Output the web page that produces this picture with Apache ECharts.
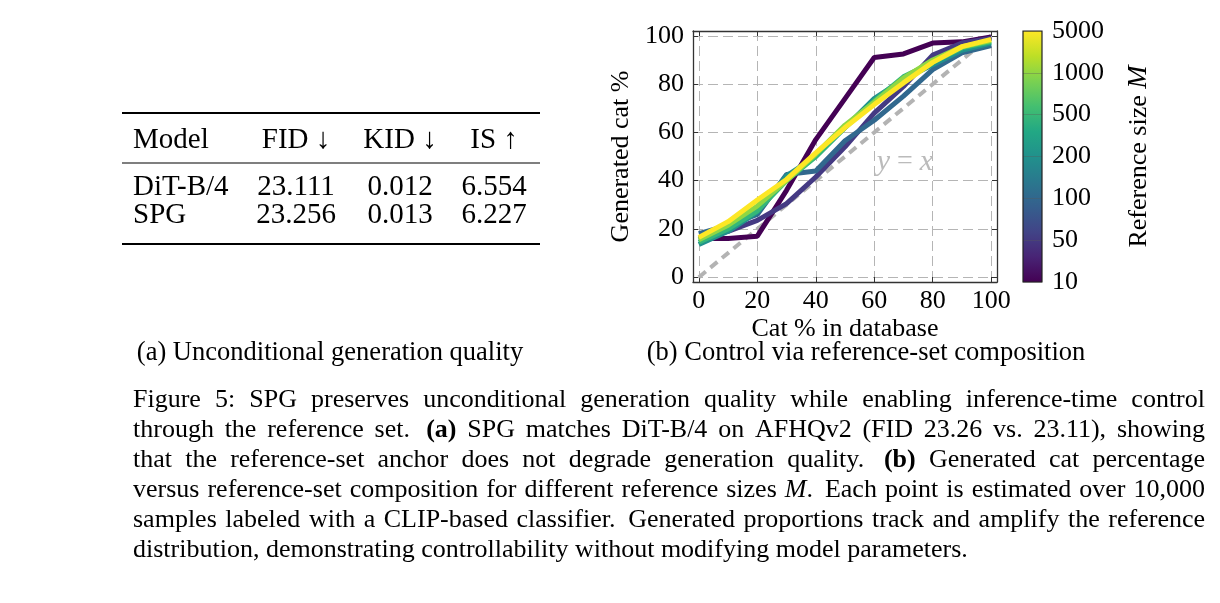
<!DOCTYPE html>
<html>
<head>
<meta charset="utf-8">
<script src="https://cdn.jsdelivr.net/npm/echarts@6/dist/echarts.min.js"></script>
<style>
  html, body { margin: 0; padding: 0; background: #fff; }
  #chart { width: 1220px; height: 603px; }
</style>
</head>
<body>
<div id="chart"></div>
<script>
// ---- data ----
const catPct = [0, 10, 20, 30, 40, 50, 60, 70, 80, 90, 100]
const axisTicks = [0, 20, 40, 60, 80, 100]
const refSizes = ['10', '50', '100', '200', '500', '1000', '5000']
const gen10 = [16, 16, 17, 36, 57, 74, 91, 92.5, 97, 97.5, 99.5]
const gen50 = [16, 19, 23.5, 30.5, 41.5, 54, 68, 79, 92, 97, 99]
const gen100 = [18, 21.5, 26, 42.5, 44, 56.5, 65, 75, 86, 93, 96]
const gen200 = [13.5, 19, 27, 42, 50, 62, 74, 82, 88, 94, 97]
const gen500 = [14.5, 20, 27.5, 40, 50, 62, 73, 83, 89, 95, 97.5]
const gen1000 = [15.5, 21.5, 29.5, 40, 51, 63, 72.5, 82.5, 90, 95.5, 98]
const gen5000 = [16.5, 23, 32, 40.5, 51.5, 62, 71.5, 80.5, 89, 95.5, 98.5]
const identity = [0, 100]
const identityLabelAt = [70.5, 47.7]

const tableHead = ['Model', 'FID ↓', 'KID ↓', 'IS ↑']
const tableRows = [
  ['DiT-B/4', '23.111', '0.012', '6.554'],
  ['SPG', '23.256', '0.013', '6.227']
]

const captionLines = [
  'Figure 5: SPG preserves unconditional generation quality while enabling inference-time control',
  'through the reference set. **(a)** SPG matches DiT-B/4 on AFHQv2 (FID 23.26 vs. 23.11), showing',
  'that the reference-set anchor does not degrade generation quality. **(b)** Generated cat percentage',
  'versus reference-set composition for different reference sizes _M_. Each point is estimated over 10,000',
  'samples labeled with a CLIP-based classifier. Generated proportions track and amplify the reference',
  'distribution, demonstrating controllability without modifying model parameters.'
]

const FONT = '"Liberation Serif", "DejaVu Serif", serif'
const viridis = ['#440154', '#482475', '#414487', '#355f8d', '#2a788e', '#21918c',
  '#22a884', '#44bf70', '#7ad151', '#bddf26', '#fde725']
const lineColors = ['#440154', '#443a83', '#31688e', '#21918c', '#35b779', '#8fd744', '#fde725']
const genSeries = [gen10, gen50, gen100, gen200, gen500, gen1000, gen5000]

// ---- graphic helpers ----
function text(x, y, str, opts = {}) {
  const size = opts.size || 26
  const font = `${opts.style || 'normal'} ${opts.weight || 'normal'} ${size}px ${FONT}`
  return {
    type: 'text', x, y, silent: true,
    style: {
      text: str, font, fill: opts.color || '#000',
      align: opts.align || 'left', textAlign: opts.align || 'left',
      verticalAlign: 'middle', textVerticalAlign: 'middle'
    }
  }
}

function rule(x1, x2, y, w) {
  return { type: 'line', silent: true, shape: { x1, y1: y, x2, y2: y }, style: { stroke: '#000', lineWidth: w } }
}

const measureCtx = document.createElement('canvas').getContext('2d')
function measure(str, style, weight, size) {
  measureCtx.font = `${style} ${weight} ${size}px ${FONT}`
  return measureCtx.measureText(str).width
}

// split a word like "**(a)**" or "_M_." into styled pieces
function pieces(word) {
  const out = []
  const re = /\*\*(.+?)\*\*|_(.+?)_/g
  let last = 0, m
  while ((m = re.exec(word))) {
    if (m.index > last) out.push({ t: word.slice(last, m.index), style: 'normal', weight: 'normal' })
    if (m[1]) out.push({ t: m[1], style: 'normal', weight: 'bold' })
    else out.push({ t: m[2], style: 'italic', weight: 'normal' })
    last = re.lastIndex
  }
  if (last < word.length) out.push({ t: word.slice(last), style: 'normal', weight: 'normal' })
  return out
}

function captionGraphics() {
  const left = 133, right = 1205, size = 26, top = 400, lead = 30
  const els = []
  captionLines.forEach((line, li) => {
    const words = line.split(' ').map(w => {
      const ps = pieces(w)
      ps.forEach(p => { p.w = measure(p.t, p.style, p.weight, size) })
      return { ps, w: ps.reduce((s, p) => s + p.w, 0), raw: w }
    })
    const total = words.reduce((s, w) => s + w.w, 0)
    // sentence-end gaps are a little wider, as in TeX
    const weights = words.slice(0, -1).map(w => (/\.$/.test(w.raw) && w.raw !== 'vs.') ? 1.5 : 1)
    const wsum = weights.reduce((s, v) => s + v, 0)
    const last = li === captionLines.length - 1
    const unit = last ? measure(' ', 'normal', 'normal', size) : (right - left - total) / wsum
    let x = left
    const y = top + li * lead
    words.forEach((w, i) => {
      let px = x
      w.ps.forEach(p => {
        els.push(text(px, y, p.t, { size, style: p.style, weight: p.weight }))
        px += p.w
      })
      x += w.w + (i < weights.length ? unit * (last ? 1 : weights[i]) : 0)
    })
  })
  return els
}

function tableGraphics() {
  const els = [rule(122, 540, 113, 2), rule(122, 540, 163, 1.2), rule(122, 540, 244, 2)]
  const colX = [133, 296, 400, 494]
  const rowY = [140, 187, 215]
  const rows = [tableHead, ...tableRows]
  rows.forEach((r, ri) => {
    r.forEach((cell, ci) => {
      els.push(text(colX[ci], rowY[ri], cell, { size: 29, align: ci === 0 ? 'left' : 'center' }))
    })
  })
  return els
}

// ---- chart ----
const chart = echarts.init(document.getElementById('chart'), null, { renderer: 'canvas' })

const tickLabel = { color: '#000', fontFamily: FONT, fontSize: 26 }
const frameLine = { show: true, onZero: false, lineStyle: { color: '#333', width: 1.3 } }
const innerTick = { show: true, inside: true, length: 5, customValues: axisTicks, lineStyle: { color: '#333', width: 1 } }
const dashGrid = { show: true, lineStyle: { color: '#b5b5b5', width: 1, type: [10, 5] } }

const lineSeries = genSeries.map((vals, i) => ({
  name: refSizes[i],
  type: 'line',
  xAxisIndex: 0,
  yAxisIndex: 0,
  symbol: 'none',
  clip: false,
  z: 3 + i,
  data: catPct.map((x, k) => [x, vals[k]]),
  lineStyle: { color: lineColors[i], width: 5 },
  itemStyle: { color: lineColors[i] }
}))

const option = {
  animation: false,
  backgroundColor: '#fff',
  grid: [
    { left: 693, top: 31, width: 304, height: 251 },
    { left: 1023, top: 31, width: 19, height: 251, show: true, z: 10,
      backgroundColor: 'transparent', borderColor: '#222', borderWidth: 1.2 }
  ],
  xAxis: [
    {
      gridIndex: 0, type: 'value', min: -2, max: 102, position: 'bottom',
      axisLine: frameLine, axisTick: innerTick,
      axisLabel: { ...tickLabel, customValues: axisTicks, margin: 6 },
      splitLine: dashGrid,
      name: 'Cat % in database', nameLocation: 'middle', nameGap: 34,
      nameTextStyle: { ...tickLabel }
    },
    {
      gridIndex: 0, type: 'value', min: -2, max: 102, position: 'top',
      axisLine: frameLine, axisTick: innerTick,
      axisLabel: { show: false, customValues: axisTicks }, splitLine: { show: false }
    },
    { gridIndex: 1, type: 'category', data: [''], show: false, boundaryGap: true }
  ],
  yAxis: [
    {
      gridIndex: 0, type: 'value', min: -2, max: 102, position: 'left',
      axisLine: frameLine, axisTick: innerTick,
      axisLabel: { ...tickLabel, customValues: axisTicks, margin: 9 },
      splitLine: dashGrid,
      name: 'Generated cat %', nameLocation: 'middle', nameGap: 59, nameRotate: 90,
      nameTextStyle: { ...tickLabel }
    },
    {
      gridIndex: 0, type: 'value', min: -2, max: 102, position: 'right',
      axisLine: frameLine, axisTick: innerTick,
      axisLabel: { show: false, customValues: axisTicks }, splitLine: { show: false }
    },
    {
      gridIndex: 1, type: 'value', min: 0, max: refSizes.length - 1, interval: 1,
      position: 'right', z: 5,
      axisLine: { show: false },
      axisTick: { show: false },
      axisLabel: { ...tickLabel, margin: 10, formatter: v => refSizes[v] },
      splitLine: { show: true, lineStyle: { color: 'rgba(90,90,90,0.35)', width: 1 } },
      name: '{n|Reference size }{i|M}', nameLocation: 'middle', nameGap: 83, nameRotate: 90,
      nameTextStyle: {
        rich: {
          n: { fontFamily: FONT, fontSize: 26, color: '#000' },
          i: { fontFamily: FONT, fontSize: 28, color: '#000', fontStyle: 'italic' }
        }
      }
    }
  ],
  series: [
    {
      name: 'y = x',
      type: 'line',
      xAxisIndex: 0, yAxisIndex: 0,
      symbol: 'none', clip: false, z: 2,
      data: identity.map(v => [v, v]),
      lineStyle: { color: '#b3b3b3', width: 4, type: [9, 6] },
      markPoint: {
        symbol: 'rect', symbolSize: 1, silent: true,
        itemStyle: { color: 'transparent' },
        label: {
          show: true, position: 'inside',
          formatter: '{i|y} {e|=} {i|x}',
          color: '#bbbbbb', fontFamily: FONT, fontSize: 28,
          rich: {
            i: { fontStyle: 'italic', color: '#bbbbbb', fontFamily: FONT, fontSize: 30 },
            e: { color: '#bbbbbb', fontFamily: FONT, fontSize: 28 }
          }
        },
        data: [{ coord: identityLabelAt }]
      }
    },
    ...lineSeries,
    {
      name: 'colorbar',
      type: 'bar',
      xAxisIndex: 2, yAxisIndex: 2,
      barWidth: '100%', silent: true,
      data: [refSizes.length - 1],
      itemStyle: {
        color: new echarts.graphic.LinearGradient(0, 1, 0, 0,
          viridis.map((c, i) => ({ offset: i / (viridis.length - 1), color: c })))
      }
    }
  ],
  graphic: [
    ...tableGraphics(),
    text(330, 353, '(a) Unconditional generation quality', { size: 26.5, align: 'center' }),
    text(866, 353, '(b) Control via reference-set composition', { size: 26.5, align: 'center' }),
    ...captionGraphics()
  ]
}

chart.setOption(option)
</script>
</body>
</html>
